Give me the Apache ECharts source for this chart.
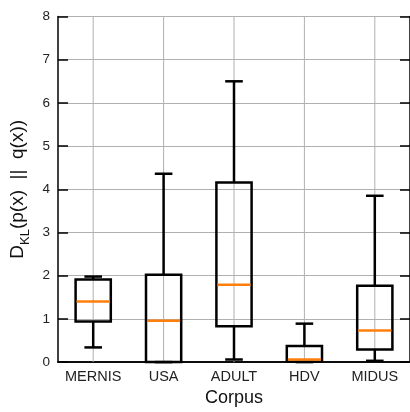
<!DOCTYPE html>
<html>
<head>
<meta charset="utf-8">
<script src="https://cdn.jsdelivr.net/npm/echarts@6/dist/echarts.min.js"></script>
<style>html,body{margin:0;padding:0;background:#fff}#c{width:410px;height:412px}</style>
</head>
<body>
<div id="c"></div>
<script>
const categories = ['MERNIS', 'USA', 'ADULT', 'HDV', 'MIDUS'];
const whiskerLow = [0.34, 0.0, 0.06, 0.0, 0.03];
const q1 = [0.94, 0.0, 0.83, 0.01, 0.29];
const median = [1.40, 0.96, 1.79, 0.06, 0.73];
const q3 = [1.91, 2.02, 4.16, 0.37, 1.77];
const whiskerHigh = [1.98, 4.36, 6.50, 0.89, 3.85];
const yTicks = [0, 1, 2, 3, 4, 5, 6, 7, 8];

const FONT = 'Liberation Sans';
const chart = echarts.init(document.getElementById('c'), null, {renderer: 'canvas'});

const boxData = categories.map((c, i) => [i, whiskerLow[i], q1[i], median[i], q3[i], whiskerHigh[i]]);
const gridData = categories.map((c, i) => [i]);

chart.setOption({
  animation: false,
  grid: {left: 58, top: 16.5, right: -3.5, bottom: 49.3, containLabel: false},
  xAxis: [{
    type: 'category', data: categories, boundaryGap: true, position: 'bottom',
    axisLine: {lineStyle: {color: '#000', width: 1.5}},
    axisTick: {inside: true, alignWithLabel: true, interval: 0, length: 10, lineStyle: {color: '#000', width: 1.5}},
    axisLabel: {interval: 0, margin: 7, color: '#222', fontFamily: FONT, fontSize: 14.5},
    splitLine: {show: false},
    name: 'Corpus', nameLocation: 'middle', nameGap: 25,
    nameTextStyle: {fontFamily: FONT, fontSize: 18, color: '#111'}
  }, {
    type: 'category', data: categories, boundaryGap: true, position: 'top',
    axisLine: {lineStyle: {color: '#000', width: 1.5}},
    axisTick: {inside: true, alignWithLabel: true, interval: 0, length: 10, lineStyle: {color: '#000', width: 1.5}},
    axisLabel: {show: false}, splitLine: {show: false}
  }],
  yAxis: [{
    type: 'value', min: 0, max: 8, interval: 1, position: 'left',
    axisLine: {show: true, lineStyle: {color: '#000', width: 1.5}},
    axisTick: {show: true, inside: true, length: 10, lineStyle: {color: '#000', width: 1.5}},
    axisLabel: {margin: 8, color: '#222', fontFamily: FONT, fontSize: 13.5,
      formatter: v => yTicks.includes(v) ? String(v) : ''},
    splitLine: {show: true, lineStyle: {color: '#b0b0b0', width: 1}},
    name: '{d|D}{s|KL}{d|(p(x)  ||  q(x))}', nameLocation: 'middle', nameGap: 22, nameRotate: 90,
    nameTextStyle: {
      fontFamily: FONT, fontSize: 19, color: '#111',
      rich: {
        d: {fontFamily: FONT, fontSize: 19, color: '#111', verticalAlign: 'bottom', lineHeight: 22},
        s: {fontFamily: FONT, fontSize: 13, color: '#111', verticalAlign: 'bottom', lineHeight: 18, padding: [0, 0, -4, 0]}
      }
    }
  }, {
    type: 'value', min: 0, max: 8, interval: 1, position: 'right',
    axisLine: {show: true, lineStyle: {color: '#000', width: 1.5}},
    axisTick: {show: true, inside: true, length: 10, lineStyle: {color: '#000', width: 1.5}},
    axisLabel: {show: false}, splitLine: {show: false}
  }],
  series: [{
    type: 'custom', xAxisIndex: 0, yAxisIndex: 0, z: 1, silent: true,
    data: gridData,
    renderItem: function (params, api) {
      const i = api.value(0);
      const p0 = api.coord([i, 0]);
      const p1 = api.coord([i, 8]);
      return {type: 'line', shape: {x1: p0[0], y1: p0[1], x2: p1[0], y2: p1[1]},
        style: {stroke: '#b0b0b0', lineWidth: 1}};
    }
  }, {
    type: 'custom', xAxisIndex: 0, yAxisIndex: 0, z: 3, silent: true,
    data: boxData,
    renderItem: function (params, api) {
      const i = api.value(0);
      const band = api.size([1, 0])[0];
      const bw = band * 0.5, cw = band * 0.25;
      const lo = api.coord([i, api.value(1)]);
      const a = api.coord([i, api.value(2)]);
      const m = api.coord([i, api.value(3)]);
      const b = api.coord([i, api.value(4)]);
      const hi = api.coord([i, api.value(5)]);
      const x = lo[0];
      const black = {stroke: '#000', lineWidth: 2.5, fill: null};
      return {type: 'group', children: [
        {type: 'line', shape: {x1: x, y1: a[1], x2: x, y2: lo[1]}, style: black},
        {type: 'line', shape: {x1: x, y1: b[1], x2: x, y2: hi[1]}, style: black},
        {type: 'line', shape: {x1: x - cw / 2, y1: lo[1], x2: x + cw / 2, y2: lo[1]}, style: black},
        {type: 'line', shape: {x1: x - cw / 2, y1: hi[1], x2: x + cw / 2, y2: hi[1]}, style: black},
        {type: 'rect', shape: {x: x - bw / 2, y: b[1], width: bw, height: a[1] - b[1]}, style: black},
        {type: 'line', shape: {x1: x - bw / 2 + 1, y1: m[1], x2: x + bw / 2 - 1, y2: m[1]},
          style: {stroke: '#ff7f0e', lineWidth: 2.5}}
      ]};
    }
  }]
});
</script>
</body>
</html>
